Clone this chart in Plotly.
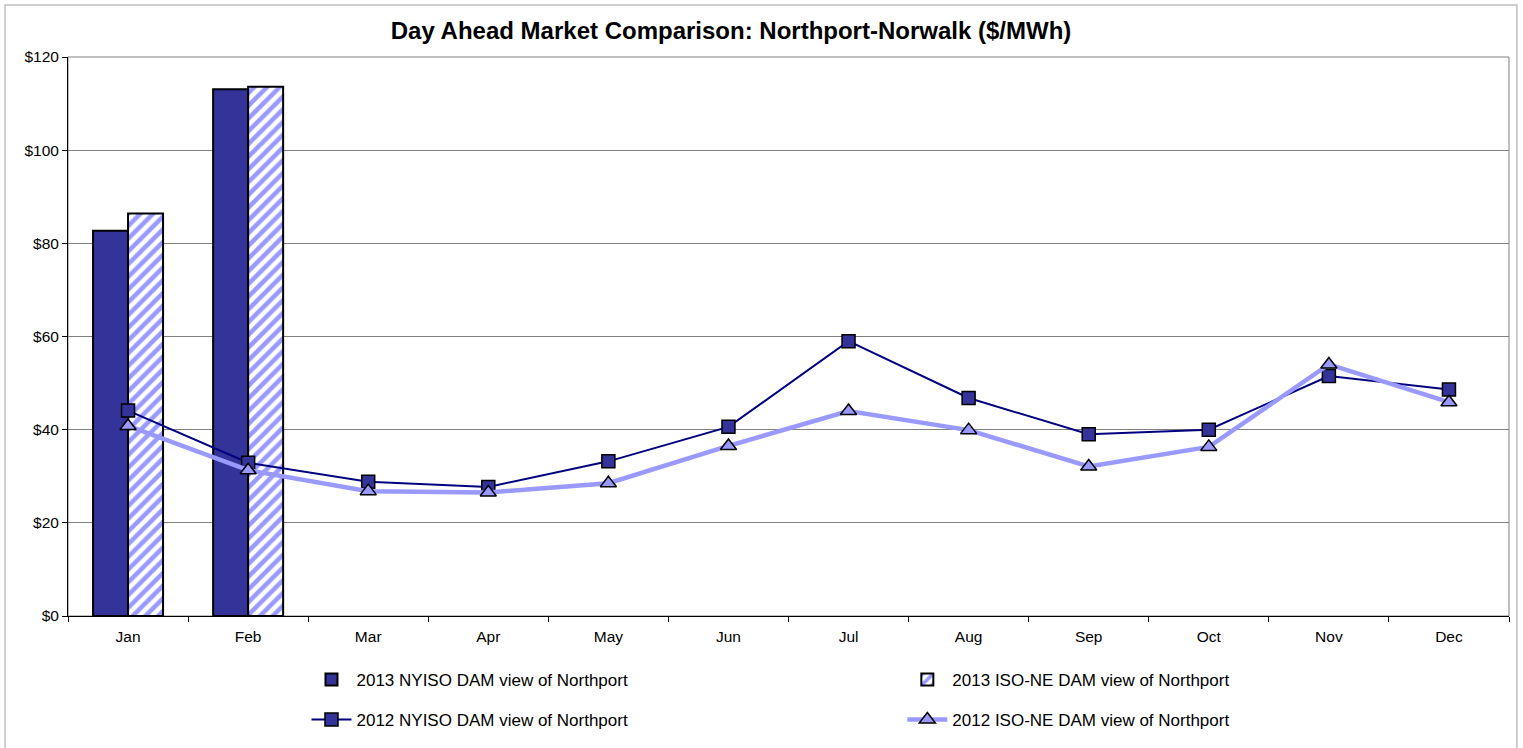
import plotly.graph_objects as go

months = ["Jan", "Feb", "Mar", "Apr", "May", "Jun", "Jul", "Aug", "Sep", "Oct", "Nov", "Dec"]
nyiso_2013 = [82.7, 113.1]
isone_2013 = [86.4, 113.6]
nyiso_2012 = [44.1, 32.9, 28.8, 27.7, 33.2, 40.6, 59.0, 46.8, 39.0, 40.0, 51.5, 48.6]
isone_2012 = [40.8, 31.3, 26.8, 26.5, 28.5, 36.5, 44.0, 39.9, 32.1, 36.3, 54.0, 45.9]
y_ticks = [0, 20, 40, 60, 80, 100, 120]
y_tick_labels = ["$0", "$20", "$40", "$60", "$80", "$100", "$120"]

FONT = "Liberation Sans, Arial, sans-serif"
LEG_FONT = dict(size=17, family=FONT, color="#000000")

fig = go.Figure()
fig.add_trace(go.Bar(
    x=months[:2], y=nyiso_2013, name="2013 NYISO DAM view of Northport",
    marker=dict(color="#333399", line=dict(color="#000000", width=2)),
    legend="legend",
))
fig.add_trace(go.Bar(
    x=months[:2], y=isone_2013, name="2013 ISO-NE DAM view of Northport",
    marker=dict(color="#ffffff", line=dict(color="#000000", width=2),
                pattern=dict(shape="/", fgcolor="#9999FF", bgcolor="#ffffff",
                             size=9, solidity=0.5, fillmode="replace")),
    legend="legend2",
))
fig.add_trace(go.Scatter(
    x=months, y=nyiso_2012, name="2012 NYISO DAM view of Northport",
    mode="lines+markers",
    line=dict(color="#000080", width=2),
    marker=dict(symbol="square", size=13, color="#333399",
                line=dict(color="#000000", width=1.5)),
    legend="legend3",
))
fig.add_trace(go.Scatter(
    x=months, y=isone_2012, name="2012 ISO-NE DAM view of Northport",
    mode="lines+markers",
    line=dict(color="#9999FF", width=4.5),
    marker=dict(symbol="triangle-up", size=14, color="#9999FF",
                line=dict(color="#000000", width=1.5)),
    legend="legend4",
))

def leg(x, y):
    return dict(x=x, y=y, xanchor="left", yanchor="middle", xref="paper", yref="paper",
                font=LEG_FONT, itemwidth=40, bgcolor="rgba(0,0,0,0)", borderwidth=0)

fig.update_layout(
    width=1523, height=748,
    margin=dict(l=68, r=14, t=57, b=132, autoexpand=False),
    paper_bgcolor="#ffffff", plot_bgcolor="#ffffff",
    font=dict(family=FONT, size=15, color="#000000"),
    title=dict(text="<b>Day Ahead Market Comparison: Northport-Norwalk ($/MWh)</b>",
               x=0.48, xref="container", xanchor="center", y=0.9586, yref="container",
               yanchor="middle", font=dict(size=24, family=FONT, color="#000000")),
    barmode="group", bargap=0.417, bargroupgap=0,
    showlegend=True,
    legend=leg(0.1655, -0.1145),
    legend2=leg(0.579, -0.1145),
    legend3=leg(0.1655, -0.186),
    legend4=leg(0.579, -0.186),
    xaxis=dict(type="category", categoryorder="array", categoryarray=months,
               range=[-0.5, 11.5],
               showline=True, linecolor="#000000", linewidth=1,
               ticks="outside", tickson="boundaries", ticklen=5, tickcolor="#000000",
               ticklabelstandoff=6,
               tickfont=dict(size=15.5), showgrid=False, automargin=False),
    yaxis=dict(range=[0, 120], tickvals=y_ticks, ticktext=y_tick_labels,
               showline=True, linecolor="#000000", linewidth=1,
               ticks="outside", ticklen=5, tickcolor="#000000",
               showgrid=True, gridcolor="#808080", gridwidth=1,
               tickfont=dict(size=15.5), zeroline=False, automargin=False),
    shapes=[
        dict(type="rect", xref="paper", yref="paper", x0=0, x1=1, y0=0, y1=1,
             line=dict(color="#808080", width=1), layer="below"),
        dict(type="rect", xref="paper", yref="paper", x0=-0.0437, x1=1.0055,
             y0=-0.24, y1=1.093, line=dict(color="#c0c0c0", width=1.5), layer="below"),
    ],
)

fig.write_html("out.html", config={"displayModeBar": False},
               post_script="document.body.style.margin='0';document.body.style.overflow='hidden';")
